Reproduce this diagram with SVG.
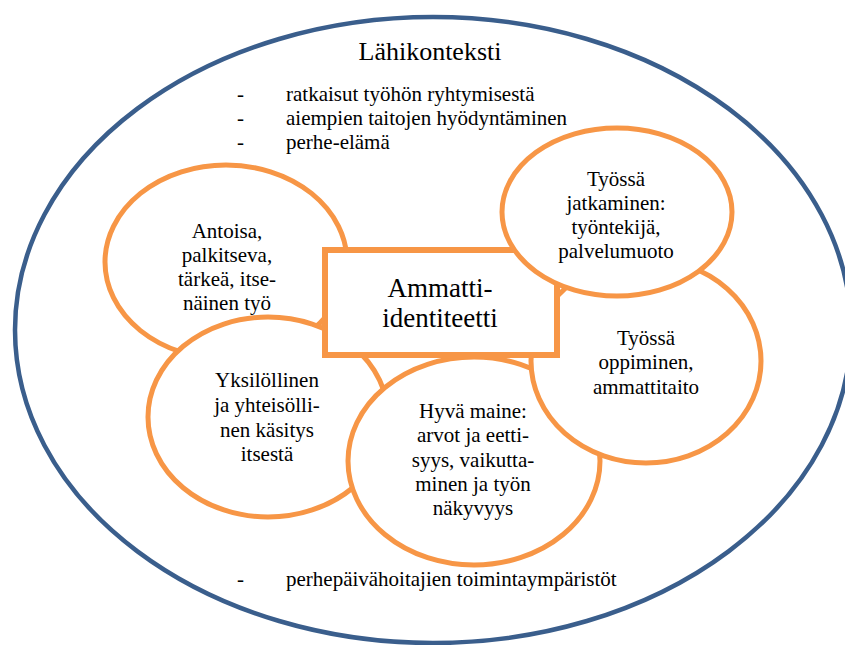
<svg xmlns="http://www.w3.org/2000/svg" width="845" height="645" viewBox="0 0 845 645">
<style>
text{font-family:"Liberation Serif","Times New Roman",serif;fill:#000;}
.t21{font-size:21px;}
.c{text-anchor:middle;}
.bub{fill:#fff;stroke:#F79646;stroke-width:5;}
.box{fill:#fff;stroke:#F79646;stroke-width:6;}
.outer{fill:#fff;stroke:#3A5E8C;stroke-width:4.5;}
</style>
<rect width="845" height="645" fill="#fff"/>
<g id="context">
<ellipse class="outer" cx="433" cy="330" rx="418" ry="313"/>
<text x="430" y="60" class="c" style="font-size:26px">Lähikonteksti</text>
<text x="237" y="101" class="t21">-</text>
<text x="286" y="101" class="t21">ratkaisut työhön ryhtymisestä</text>
<text x="237" y="125" class="t21">-</text>
<text x="286" y="125" class="t21">aiempien taitojen hyödyntäminen</text>
<text x="237" y="149" class="t21">-</text>
<text x="286" y="149" class="t21">perhe-elämä</text>
<text x="237" y="586" class="t21">-</text>
<text x="286" y="586" class="t21">perhepäivähoitajien toimintaympäristöt</text>
</g>
<g id="antoisa">
<ellipse class="bub" cx="226" cy="262" rx="121" ry="97"/>
<text class="t21 c" x="227" y="238">Antoisa,</text>
<text class="t21 c" x="227" y="262">palkitseva,</text>
<text class="t21 c" x="227" y="286">tärkeä, itse-</text>
<text class="t21 c" x="227" y="310">näinen työ</text>
</g>
<g id="yksilollinen">
<ellipse class="bub" cx="268" cy="417" rx="120" ry="100"/>
<text class="t21 c" x="267" y="387">Yksilöllinen</text>
<text class="t21 c" x="267" y="412">ja yhteisölli-</text>
<text class="t21 c" x="267" y="437">nen käsitys</text>
<text class="t21 c" x="267" y="461">itsestä</text>
</g>
<g id="hyva-maine">
<ellipse class="bub" cx="474" cy="461" rx="126" ry="104"/>
<text class="t21 c" x="473" y="418">Hyvä maine:</text>
<text class="t21 c" x="473" y="442">arvot ja eetti-</text>
<text class="t21 c" x="473" y="467">syys, vaikutta-</text>
<text class="t21 c" x="473" y="491">minen ja työn</text>
<text class="t21 c" x="473" y="515">näkyvyys</text>
</g>
<g id="tyossa-oppiminen">
<ellipse class="bub" cx="646" cy="361" rx="115" ry="102"/>
<text class="t21 c" x="646" y="345">Työssä</text>
<text class="t21 c" x="646" y="369">oppiminen,</text>
<text class="t21 c" x="646" y="394">ammattitaito</text>
</g>
<g id="ammatti-identiteetti">
<rect class="box" x="325" y="250" width="232" height="105"/>
<text class="c" style="font-size:27px" x="440" y="297">Ammatti-</text>
<text class="c" style="font-size:27px" x="440" y="327">identiteetti</text>
</g>
<g id="tyossa-jatkaminen">
<ellipse class="bub" cx="617" cy="212" rx="115" ry="84"/>
<text class="t21 c" x="616" y="186">Työssä</text>
<text class="t21 c" x="616" y="210">jatkaminen:</text>
<text class="t21 c" x="616" y="234">työntekijä,</text>
<text class="t21 c" x="616" y="258">palvelumuoto</text>
</g>
<g id="connectors"></g>
</svg>
